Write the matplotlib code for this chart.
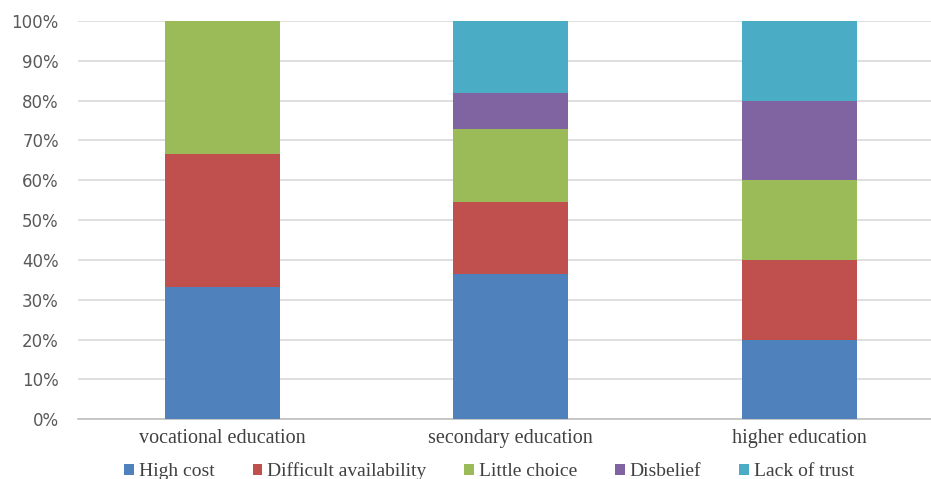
import matplotlib.pyplot as plt
import numpy as np
from matplotlib.ticker import PercentFormatter

# survey shares (%) per education type
categories = ["vocational education", "secondary education", "higher education"]
high_cost = [33.3, 36.4, 20.0]
difficult_availability = [33.3, 18.2, 20.0]
little_choice = [33.4, 18.2, 20.0]
disbelief = [0.0, 9.1, 20.0]
lack_of_trust = [0.0, 18.1, 20.0]

series = [
    ("High cost", high_cost, "#4F81BD"),
    ("Difficult availability", difficult_availability, "#C0504D"),
    ("Little choice", little_choice, "#9BBB59"),
    ("Disbelief", disbelief, "#8064A2"),
    ("Lack of trust", lack_of_trust, "#4BACC6"),
]

fig = plt.figure(figsize=(9.31, 4.79), dpi=100)
ax = fig.add_axes([0.084, 0.125, 0.916, 0.831])

x = np.arange(len(categories))
bottom = np.zeros(len(categories))
for label, values, color in series:
    ax.bar(x, values, width=0.4, bottom=bottom, color=color, label=label, zorder=3)
    bottom += np.array(values)

ax.set_ylim(0, 100)
ax.set_xlim(-0.5, 2.457)
ax.set_yticks(np.arange(0, 101, 10))
ax.yaxis.set_major_formatter(PercentFormatter(decimals=0))
ax.grid(axis="y", color="#D9D9D9", linewidth=1.2, zorder=0)
ax.set_xticks(x)
ax.set_xticklabels(categories, family="Liberation Serif", fontsize=14.5, color="#404040")
ax.tick_params(axis="y", length=0, labelsize=12, labelcolor="#595959", pad=14)
ax.tick_params(axis="x", length=0, pad=7)
for lbl in ax.get_yticklabels():
    lbl.set_family("DejaVu Sans")
for side in ["top", "right", "left"]:
    ax.spines[side].set_visible(False)
ax.spines["bottom"].set_color("#BFBFBF")
ax.spines["bottom"].set_linewidth(1.2)

ax.legend(
    loc="lower center",
    bbox_to_anchor=(0.482, -0.188),
    ncol=5,
    frameon=False,
    prop={"family": "Liberation Serif", "size": 14},
    handlelength=0.5,
    handleheight=0.5,
    handletextpad=0.25,
    columnspacing=1.95,
    borderpad=0.2,
    labelcolor="#404040",
)

fig.savefig("out.png", dpi=100)
